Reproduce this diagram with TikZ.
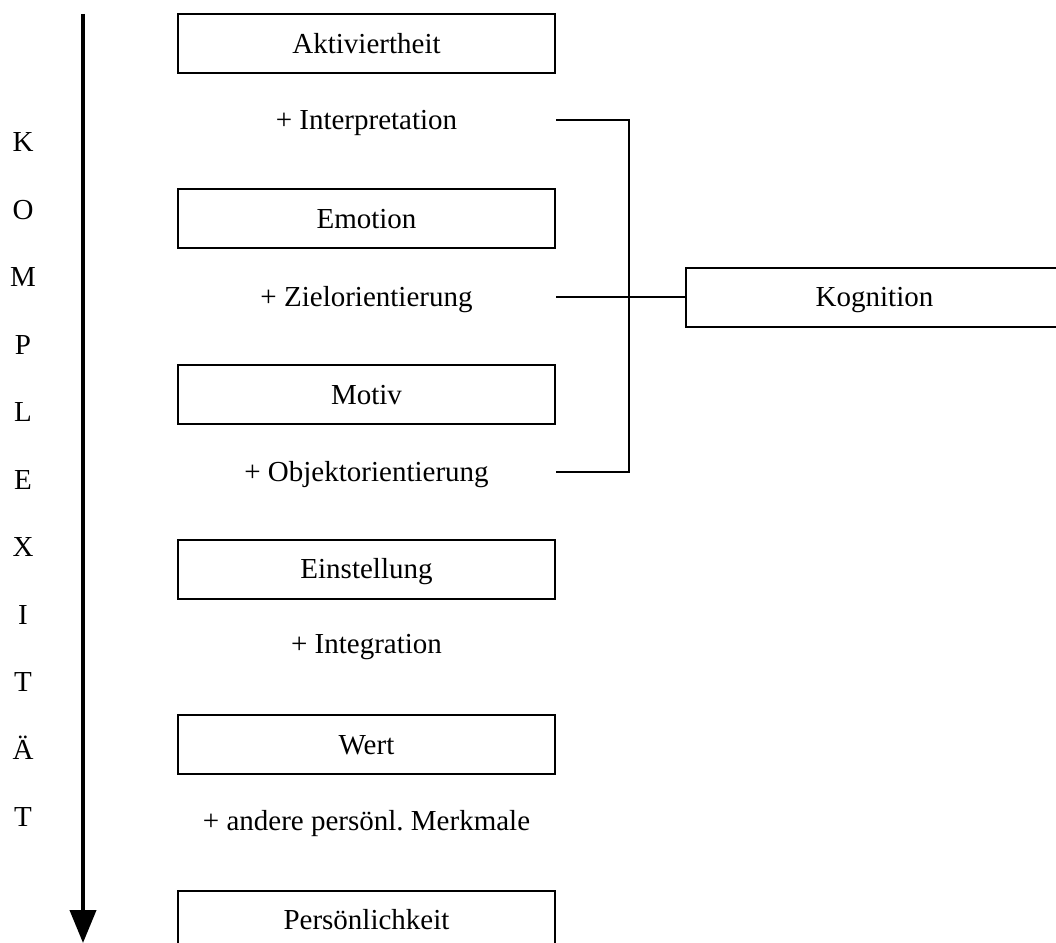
\documentclass[tikz,border=0pt]{standalone}
\usepackage{fontspec}
\setmainfont{Liberation Serif}
\usetikzlibrary{arrows.meta}
\frenchspacing
\tikzset{
  >={Triangle[length=33pt,width=26pt]},
  axis/.style={->,line width=4pt,draw=black},
  link/.style={line width=1.8pt,draw=black},
  stage/.style={draw=black,line width=2pt,minimum width=377pt,minimum height=59pt,
                inner sep=0pt,text height=25.5pt,text depth=6pt},
  addon/.style={inner sep=0pt,text height=25.5pt,text depth=6pt},
  letter/.style={inner sep=0pt,text height=19.5pt,text depth=0pt}
}

\begin{document}
\begin{tikzpicture}[x=1pt,y=-1pt,font=\fontsize{29pt}{35pt}\selectfont]
  \clip (0,0) rectangle (1056,942);
  % Komplexitaet axis
  \coordinate (top) at (83,14);
  \coordinate (bot) at (83,943);
  \draw[axis] (top) -- (bot);
  \foreach \l [count=\i] in {K,O,M,P,L,E,X,I,T,Ä,T}
    \node[letter] (l\i) at (23,{142+67.5*(\i-1)}) {\l};

  % Stufen
  \node[stage] (akt) at (366.5,43.5) {Aktiviertheit};
  \node[addon] (intp) at (366.5,120) {+ Interpretation};
  \node[stage] (emo) at (366.5,218.5) {Emotion};
  \node[addon] (ziel) at (366.5,297) {+ Zielorientierung};
  \node[stage] (mot) at (366.5,394.5) {Motiv};
  \node[addon] (objk) at (366.5,472) {+ Objektorientierung};
  \node[stage] (einst) at (366.5,569) {Einstellung};
  \node[addon] (integ) at (366.5,644) {+ Integration};
  \node[stage] (wert) at (366.5,744.5) {Wert};
  \node[addon] (merk) at (366.5,821) {+ andere persönl.\ Merkmale};
  \node[stage] (pers) at (366.5,920) {Persönlichkeit};

  % Kognition
  \node[stage] (kog) at (874.5,297) {Kognition};
  \coordinate (brk) at (629,297);
  \draw[link] (intp -| akt.east) -- (intp -| brk) -- (objk -| brk) -- (objk -| akt.east);
  \draw[link] (ziel -| akt.east) -- (kog.west);
\end{tikzpicture}
\end{document}
